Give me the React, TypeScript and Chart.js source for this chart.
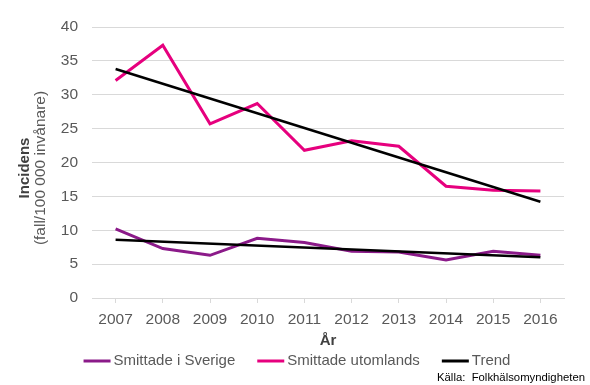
import React, { useEffect, useRef } from 'react';
import { Chart, registerables } from 'chart.js';

Chart.register(...registerables);

const years = ['2007', '2008', '2009', '2010', '2011', '2012', '2013', '2014', '2015', '2016'];
const smittadeSverige = [10.2, 7.3, 6.3, 8.8, 8.2, 6.9, 6.8, 5.6, 6.9, 6.3];
const smittadeUtomlands = [32.1, 37.3, 25.7, 28.7, 21.8, 23.2, 22.4, 16.5, 15.9, 15.8];
// Trend lines: straight lines between the read end values
const trendUtomlands = [33.8, null, null, null, null, null, null, null, null, 14.2];
const trendSverige = [8.6, null, null, null, null, null, null, null, null, 6.0];
const yTicks = [0, 5, 10, 15, 20, 25, 30, 35, 40];

const PURPLE = '#8b1a89';
const PINK = '#e6007e';
const BLACK = '#000000';
const GREY = '#595959';
const GRID = '#d9d9d9';
const FONT = "'Liberation Sans', Arial, sans-serif";

const annotations = {
  id: 'annotations',
  afterDraw(chart: any) {
    const ctx = chart.ctx as CanvasRenderingContext2D;
    ctx.save();
    // Y axis title (two lines, rotated)
    const cy = 168;
    ctx.translate(25, cy);
    ctx.rotate(-Math.PI / 2);
    ctx.textAlign = 'center';
    ctx.textBaseline = 'middle';
    ctx.fillStyle = '#404040';
    ctx.font = `bold 15px ${FONT}`;
    ctx.fillText('Incidens', 0, 0);
    ctx.restore();
    ctx.save();
    ctx.translate(41, cy);
    ctx.rotate(-Math.PI / 2);
    ctx.textAlign = 'center';
    ctx.textBaseline = 'middle';
    ctx.fillStyle = GREY;
    ctx.font = `15.5px ${FONT}`;
    ctx.fillText('(fall/100 000 invånare)', 0, 0);
    ctx.restore();

    // Legend
    ctx.save();
    ctx.font = `15px ${FONT}`;
    ctx.textBaseline = 'middle';
    ctx.textAlign = 'left';
    const items = chart.data.datasets
      .filter((d: any) => d.inLegend)
      .sort((a: any, b: any) => a.legendIndex - b.legendIndex);
    const sw = 27, gap = 3, itemGap = 22;
    const widths = items.map((d: any) => sw + gap + ctx.measureText(d.label).width);
    const total = widths.reduce((a: number, b: number) => a + b, 0) + itemGap * (items.length - 1);
    let x = 297 - total / 2;
    const ly = 361;
    items.forEach((d: any, i: number) => {
      ctx.strokeStyle = d.borderColor;
      ctx.lineWidth = 3;
      ctx.beginPath();
      ctx.moveTo(x, ly);
      ctx.lineTo(x + sw, ly);
      ctx.stroke();
      ctx.fillStyle = GREY;
      ctx.fillText(d.label, x + sw + gap, ly);
      x += widths[i] + itemGap;
    });
    // Source
    ctx.fillStyle = '#000000';
    ctx.font = `11.5px ${FONT}`;
    ctx.textAlign = 'right';
    ctx.fillText('Källa:  Folkhälsomyndigheten', 585, 378, 148);
    ctx.restore();
  },
};

export default function App() {
  const ref = useRef<HTMLCanvasElement>(null);
  useEffect(() => {
    const chart = new Chart(ref.current as HTMLCanvasElement, {
      type: 'line',
      data: {
        labels: years,
        datasets: [
          { label: 'Smittade i Sverige', data: smittadeSverige, borderColor: PURPLE, backgroundColor: PURPLE, borderWidth: 3, pointRadius: 0, order: 2, inLegend: true, legendIndex: 0 } as any,
          { label: 'Smittade utomlands', data: smittadeUtomlands, borderColor: PINK, backgroundColor: PINK, borderWidth: 3, pointRadius: 0, order: 2, inLegend: true, legendIndex: 1 } as any,
          { label: 'Trend', data: trendUtomlands, borderColor: BLACK, backgroundColor: BLACK, borderWidth: 2.5, pointRadius: 0, spanGaps: true, order: 1, inLegend: true, legendIndex: 2 } as any,
          { label: 'Trend', data: trendSverige, borderColor: BLACK, backgroundColor: BLACK, borderWidth: 2.5, pointRadius: 0, spanGaps: true, order: 1, inLegend: false } as any,
        ],
      },
      options: {
        animation: false,
        responsive: false,
        layout: { padding: { left: 0, right: 26, top: 27, bottom: 35 } },
        plugins: { legend: { display: false }, tooltip: { enabled: false } },
        scales: {
          x: {
            offset: true,
            grid: { offset: false, drawOnChartArea: false, color: GRID, tickLength: 5 },
            border: { color: GRID },
            ticks: { color: GREY, font: { family: FONT, size: 15.5 }, padding: 7, maxRotation: 0 },
            title: { display: true, text: 'År', color: '#404040', font: { family: FONT, size: 15, weight: 'bold' }, padding: { top: 0, bottom: 0 } },
            afterFit: (s: any) => { s.height = 52; },
          },
          y: {
            min: 0,
            max: 40,
            afterBuildTicks: (s: any) => { s.ticks = yTicks.map((v) => ({ value: v })); },
            grid: { color: GRID, drawTicks: false },
            border: { display: false },
            ticks: { color: GREY, font: { family: FONT, size: 15.5 }, padding: 14 },
            afterFit: (s: any) => { s.width = 92; },
          },
        },
      },
      plugins: [annotations],
    });
    return () => chart.destroy();
  }, []);
  return (
    <div style={{ position: 'absolute', left: 0, top: 0, width: 590, height: 385, background: '#fff' }}>
      <canvas ref={ref} width={590} height={385} style={{ display: 'block' }} />
    </div>
  );
}
